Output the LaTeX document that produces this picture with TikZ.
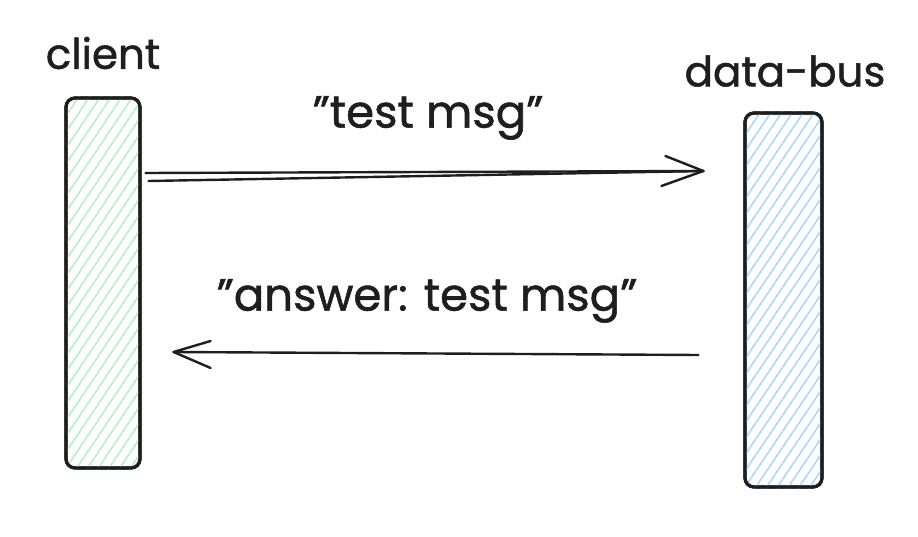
\documentclass[tikz,border=0pt]{standalone}
\usepackage{fontspec}
\setmainfont{Poppins}[FakeBold=1.2]
\usetikzlibrary{calc}
\definecolor{ink}{HTML}{1E1E1E}
\definecolor{hgreen}{HTML}{B2F2BB}
\definecolor{hblue}{HTML}{A5D8FF}
\tikzset{
  x=1pt,y=1pt,
  lifeline/.style={draw=ink,line width=3.2pt,rounded corners=9pt,minimum width=74pt,inner sep=0pt},
  lbl/.style={font=\fontsize{42}{46}\selectfont,text=ink,inner sep=0pt},
  mlbl/.style={font=\fontsize{45}{48}\selectfont,text=ink,inner sep=0pt},
  msg/.style={draw=ink,line width=2.4pt,line cap=round},
  barb/.style={draw=ink,line width=2.4pt,line cap=round}
}
\begin{document}
\begin{tikzpicture}
\useasboundingbox (0,0) rectangle (918,536);
% client lifeline
\node[lifeline,minimum height=370pt] (client) at (103,253) {};
\begin{scope}
  \clip[rounded corners=9pt] (client.south west) rectangle (client.north east);
  \foreach \k in {-128,-112,...,380}
    \draw[hgreen,line width=1.5pt] (66,68+\k) -- ++(74,110);
\end{scope}
\node[lifeline,minimum height=370pt,fill=none] at (client) {};
% data-bus lifeline
\node[lifeline,minimum height=374pt,minimum width=77pt] (bus) at (783.5,236) {};
\begin{scope}
  \clip[rounded corners=9pt] (bus.south west) rectangle (bus.north east);
  \foreach \k in {-128,-112,...,380}
    \draw[hblue,line width=1.5pt] (745,49+\k) -- ++(77,114);
\end{scope}
\node[lifeline,minimum height=374pt,minimum width=77pt] at (bus) {};
% titles
\node[lbl] (tclient) at (103,483) {client};
\node[lbl] (tbus) at (785,465) {data-bus};
% message 1
\coordinate (m1a) at ($(client.east)+(4,110)$);
\coordinate (m1b) at ($(client.east)+(7,102)$);
\coordinate (m1t) at ($(bus.west)+(-40,129)$);
\draw[msg] (m1a) -- (m1t);
\draw[msg] (m1b) -- (m1t);
\draw[barb] (m1t) -- ++(-38,15);
\draw[barb] (m1t) -- ++(-42,-15);
\node[mlbl] (l1) at (428,418) {"test msg"};
% message 2
\coordinate (m2s) at ($(bus.west)+(-45,-55)$);
\coordinate (m2t) at ($(client.east)+(32,-69)$);
\draw[msg] (m2s) -- (m2t);
\draw[barb] (m2t) -- ++(37,11);
\draw[barb] (m2t) -- ++(37,-16);
\node[mlbl] (l2) at (427,235) {"answer: test msg"};
\end{tikzpicture}
\end{document}
